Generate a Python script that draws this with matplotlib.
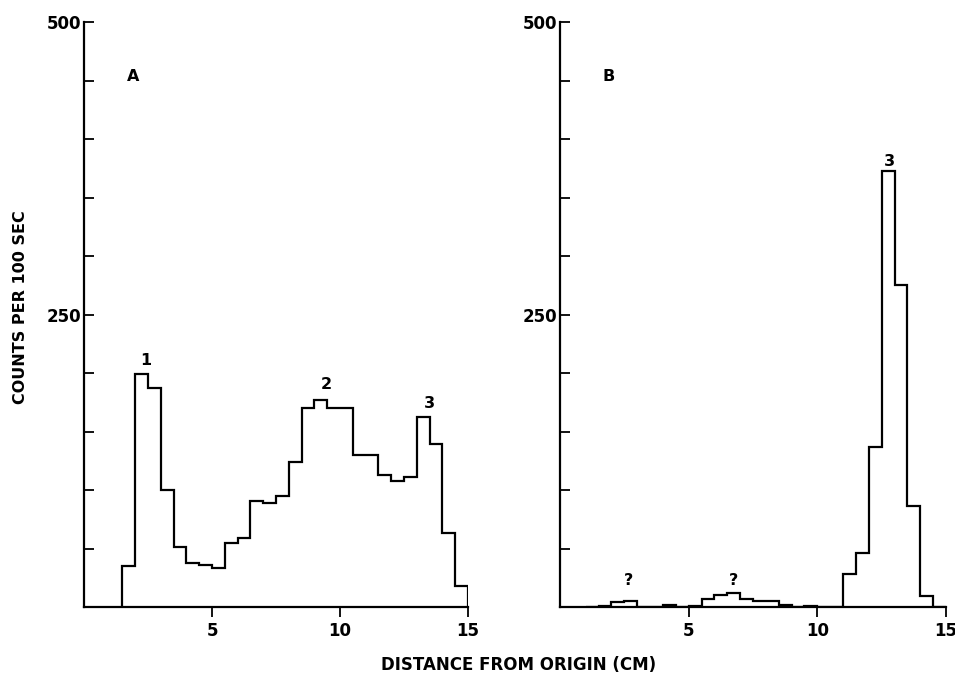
import numpy as np
import matplotlib
matplotlib.use("Agg")
import matplotlib.pyplot as plt

plt.rcParams['font.family'] = ['DejaVu Sans']
plt.rcParams['font.weight'] = 'bold'

# bin edges (cm), 0.5 cm bins
edges_a = np.arange(1.5, 15.01, 0.5)
edges_b = np.arange(1.0, 15.01, 0.5)

# counts per 100 sec, panel A
counts_a = [35, 199, 187, 100, 51, 38, 36, 33, 55, 59, 91, 89, 95, 124,
            170, 177, 170, 170, 130, 130, 113, 108, 111, 162, 139, 63, 18]

# counts per 100 sec, panel B
counts_b = [0, 1, 4, 5, 0, 0, 2, 0, 1, 7, 10, 12, 7, 5, 5, 2, 0, 1,
            0, 0, 28, 46, 137, 373, 275, 86, 9, 0]

peak_labels_a = [("1", 2.42, 211), ("2", 9.48, 190), ("3", 13.5, 174)]
peak_labels_b = [("?", 2.65, 23), ("?", 6.75, 23), ("3", 12.8, 381)]

fig = plt.figure(figsize=(9.55, 6.77), dpi=100)
ax_a = fig.add_axes([84/955, 1-607/677, 384/955, 585/677])
ax_b = fig.add_axes([560/955, 1-607/677, 386/955, 585/677])

for ax, edges, counts, lab, peaks in [(ax_a, edges_a, counts_a, "A", peak_labels_a),
                                      (ax_b, edges_b, counts_b, "B", peak_labels_b)]:
    ax.stairs(counts, edges, color='black', lw=1.6, baseline=0)
    ax.set_xlim(0, 15)
    ax.set_ylim(0, 500)
    ax.spines['top'].set_visible(False)
    ax.spines['right'].set_visible(False)
    ax.spines['left'].set_linewidth(1.6)
    ax.spines['bottom'].set_linewidth(1.6)
    ax.set_xticks([5, 10, 15])
    ax.set_yticks(np.arange(50, 501, 50))
    ax.set_yticklabels(['250' if v == 250 else '500' if v == 500 else '' for v in range(50, 501, 50)])
    ax.tick_params(axis='y', direction='in', length=7, width=1.3, labelsize=12, pad=2)
    ax.tick_params(axis='x', direction='out', length=7, width=1.3, labelsize=12, pad=4)
    ax.text(1.9, 453, lab, ha='center', va='center', fontsize=11.5, fontweight='bold')
    for txt, x, y in peaks:
        ax.text(x, y, txt, ha='center', va='center', fontsize=11.5, fontweight='bold')

fig.text(21/955, 1-307/677, "COUNTS PER 100 SEC", rotation=90, ha='center', va='center',
         fontsize=11.5, fontweight='bold')
fig.text(519/955, 1-665/677, "DISTANCE FROM ORIGIN (CM)", ha='center', va='center',
         fontsize=12, fontweight='bold')

fig.savefig("out.png", dpi=100)
